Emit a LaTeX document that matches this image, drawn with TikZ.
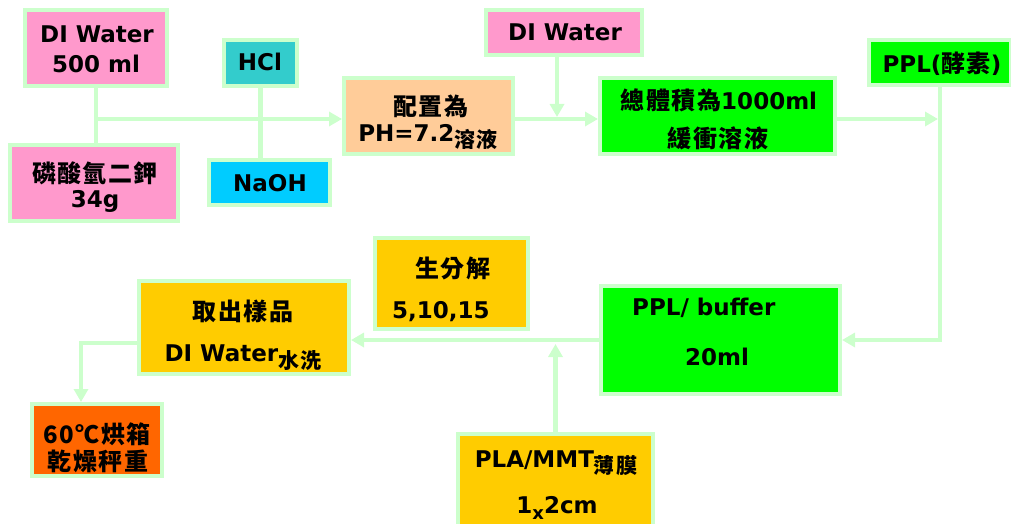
\documentclass[tikz,border=0pt]{standalone}
\usepackage{fontspec}
\setmainfont{DejaVu Sans}
\newfontfamily\cjk[LetterSpace=6]{Noto Sans CJK TC}
\usetikzlibrary{arrows.meta}
\definecolor{bord}{HTML}{CCFFCC}
\definecolor{cpink}{HTML}{FF99CC}
\definecolor{cteal}{HTML}{33CCCC}
\definecolor{ccyan}{HTML}{00CCFF}
\definecolor{cpeach}{HTML}{FFCC99}
\definecolor{cgreen}{HTML}{00FF00}
\definecolor{cgold}{HTML}{FFCC00}
\definecolor{corange}{HTML}{FF6600}
\newcommand{\smcjk}[2]{{\cjk\fontsize{21}{21}\selectfont\raisebox{#1}{#2}}}
\newcommand{\bigcjk}[1]{{\cjk\fontsize{24}{24}\selectfont #1}}
\begin{document}
\begin{tikzpicture}[x=1pt,y=-1pt,
  box/.style={draw=bord, line width=4pt, inner sep=0pt},
  t/.style={anchor=base, inner sep=0pt, font=\bfseries\fontsize{23}{26}\selectfont},
  ln/.style={draw=bord, line width=4.5pt},
  arr/.style={draw=bord, line width=4.5pt, -{Triangle[length=13pt,width=14pt]}},
]
\useasboundingbox (0,0) rectangle (1011,524);

% boxes
\node[box, fill=cpink, minimum width=142pt, minimum height=76pt] (b1) at (96,48) {};
\node[box, fill=cpink, minimum width=168pt, minimum height=76pt] (b2) at (94,183) {};
\node[box, fill=cteal, minimum width=73pt, minimum height=46pt] (hcl) at (260.5,63) {};
\node[box, fill=ccyan, minimum width=121pt, minimum height=45pt] (naoh) at (269.5,182.5) {};
\node[box, fill=cpeach, minimum width=169pt, minimum height=76pt] (ph) at (428.5,116) {};
\node[box, fill=cpink, minimum width=156pt, minimum height=45pt] (dw2) at (564,32.5) {};
\node[box, fill=cgreen, minimum width=235pt, minimum height=76pt] (g1) at (717.5,116) {};
\node[box, fill=cgreen, minimum width=142pt, minimum height=45pt] (ppl) at (940,62.5) {};
\node[box, fill=cgreen, minimum width=239pt, minimum height=108pt] (buf) at (720.5,340) {};
\node[box, fill=cgold, minimum width=153pt, minimum height=91pt] (sf) at (451.5,283.5) {};
\node[box, fill=cgold, minimum width=195pt, minimum height=94pt] (pla) at (555.5,481) {};
\node[box, fill=cgold, minimum width=210pt, minimum height=93pt] (qc) at (244,327.5) {};
\node[box, fill=corange, minimum width=130pt, minimum height=72pt] (oven) at (97,440) {};

% texts
\node[t] (b1a) at (97,43) {DI Water};
\node[t] (b1b) at (96,73) {500 ml};
\node[t] (b2a) at (95,182) {\bigcjk{磷酸氫二鉀}};
\node[t] (b2b) at (95,207) {34g};
\node[t] (hclt) at (260,71) {HCl};
\node[t] (naoht) at (270,191) {NaOH};
\node[t] (pha) at (431,116) {\bigcjk{配置為}};
\node[t] (phb) at (428,141) {PH=7.2\smcjk{-6pt}{溶液}};
\node[t] (dw2t) at (565,41) {DI Water};
\node[t] (g1a) at (719,110) {\bigcjk{總體積為}1000ml};
\node[t] (g1b) at (718,147) {\bigcjk{緩衝溶液}};
\node[t] (pplt) at (942,73) {PPL(\bigcjk{酵素})};
\node[t, anchor=base west] (bufa) at (632,315) {PPL/ buffer};
\node[t] (bufb) at (717,365) {20ml};
\node[t] (sfa) at (453,277) {\bigcjk{生分解}};
\node[t, anchor=base west] (sfb) at (392,318) {5,10,15};
\node[t] (plaa) at (556,467) {PLA/MMT\smcjk{-6pt}{薄膜}};
\node[t] (plab) at (557,513) {1\raisebox{-6pt}{\fontsize{18}{18}\selectfont x}2cm};
\node[t] (qca) at (243,320) {\bigcjk{取出樣品}};
\node[t] (qcb) at (243,361) {DI Water\smcjk{-7pt}{水洗}};
\node[t] (ovena) at (97,443) {\bigcjk{60℃烘箱}};
\node[t] (ovenb) at (98,470) {\bigcjk{乾燥秤重}};

% connectors
\coordinate (j1) at (96,119);
\coordinate (j2) at (557,117);
\coordinate (j4) at (555.5,344);
\coordinate (j5) at (81,343);
\draw[ln] (b1.south) -- (b1.south |- b2.north);
\draw[arr] (j1) -- (j1 -| ph.west);
\draw[ln] (hcl.south) -- (hcl.south |- naoh.north);
\draw[arr] (dw2.south -| j2) -- (j2);
\draw[arr] (ph.east |- j1) -- (g1.west |- j1);
\draw[arr] (g1.east |- j1) -- ([xshift=-2pt]ppl.south |- j1);
\draw[arr] (ppl.south) |- (buf.east);
\draw[arr] (buf.west) -- (buf.west -| qc.east);
\draw[arr] (pla.north) -- (j4);
\draw[arr] (qc.west |- j5) -- (j5) -- (j5 |- oven.north);
\end{tikzpicture}
\end{document}
